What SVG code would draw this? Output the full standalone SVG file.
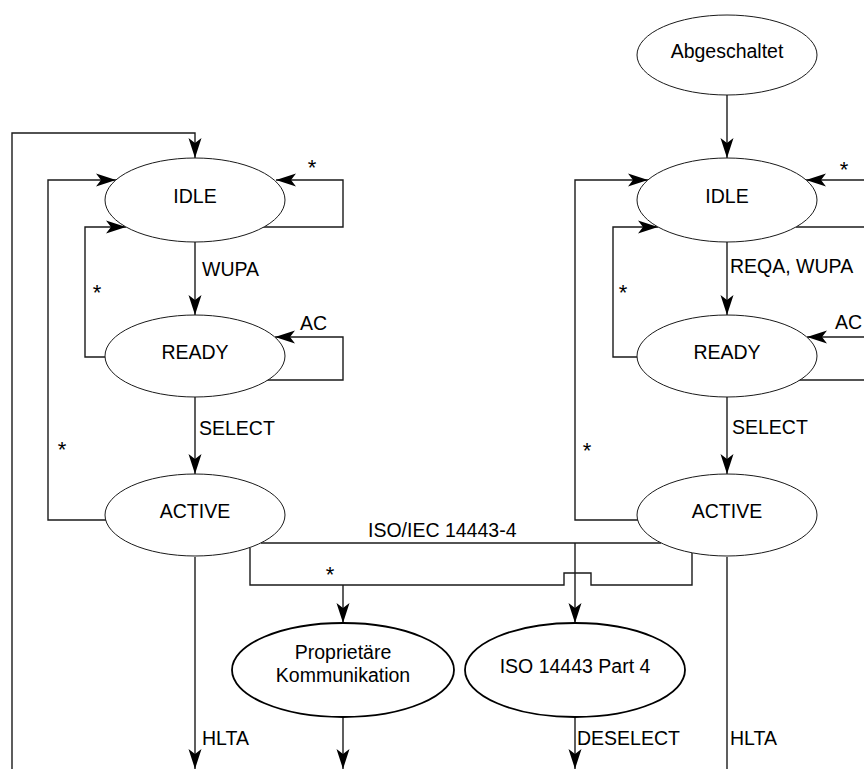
<svg xmlns="http://www.w3.org/2000/svg" width="864" height="769" viewBox="0 0 864 769">
<style>
.c{fill:none;stroke:#1a1a1a;stroke-width:1.4}
.s{fill:#fff;stroke:#1a1a1a;stroke-width:1}
.b{fill:#fff;stroke:#000;stroke-width:1.8}
text{font-family:"Liberation Sans",Arial,sans-serif;font-size:19.5px;fill:#000}
.m{text-anchor:middle}
.st{font-size:22px}
</style>
<defs>
<marker id="a" markerUnits="userSpaceOnUse" markerWidth="22" markerHeight="14" viewBox="-21 -7 22 14" refX="0" refY="0" orient="auto">
<path d="M0,0 L-20,-6.5 L-15,0 L-20,6.5 Z" fill="#000"/>
</marker>
</defs>
<rect width="864" height="769" fill="#fff"/>
<g id="connectors">
<path class="c" d="M12,769 V133 H195 V158" marker-end="url(#a)"/>
<path class="c" d="M106,520 H48 V180 H116" marker-end="url(#a)"/>
<path class="c" d="M262,227 H343 V180 H276" marker-end="url(#a)"/>
<path class="c" d="M105,357 H85 V227 H126" marker-end="url(#a)"/>
<path class="c" d="M195,242 V315" marker-end="url(#a)"/>
<path class="c" d="M266,380 H343 V337 H275" marker-end="url(#a)"/>
<path class="c" d="M195,397 V474" marker-end="url(#a)"/>
<path class="c" d="M195,557 V769" marker-end="url(#a)"/>
<path class="c" d="M261,543 H661"/>
<path class="c" d="M575,543 V623" marker-end="url(#a)"/>
<path class="c" d="M250,548 V585 H564 V573 H591 V585 H692 V553"/>
<path class="c" d="M343,585 V623" marker-end="url(#a)"/>
<path class="c" d="M343,717 V769" marker-end="url(#a)"/>
<path class="c" d="M575,717 V769" marker-end="url(#a)"/>
<path class="c" d="M727,95 V158" marker-end="url(#a)"/>
<path class="c" d="M638,520 H575 V180 H648" marker-end="url(#a)"/>
<path class="c" d="M637,357 H613 V227 H658" marker-end="url(#a)"/>
<path class="c" d="M864,180 H806" marker-end="url(#a)"/>
<path class="c" d="M796,227 H864"/>
<path class="c" d="M727,242 V315" marker-end="url(#a)"/>
<path class="c" d="M864,337 H807" marker-end="url(#a)"/>
<path class="c" d="M798,380 H864"/>
<path class="c" d="M727,397 V474" marker-end="url(#a)"/>
<path class="c" d="M727,557 V769"/>
<text x="312" y="175" class="m st">*</text>
<text x="97" y="300" class="m st">*</text>
<text x="202" y="276">WUPA</text>
<text x="300" y="330">AC</text>
<text x="199" y="435">SELECT</text>
<text x="62" y="457" class="m st">*</text>
<text x="368" y="537">ISO/IEC 14443-4</text>
<text x="330" y="582" class="m st">*</text>
<text x="202" y="745">HLTA</text>
<text x="577" y="745">DESELECT</text>
<text x="730" y="745">HLTA</text>
<text x="844" y="177" class="m st">*</text>
<text x="623" y="300" class="m st">*</text>
<text x="730" y="273">REQA, WUPA</text>
<text x="835" y="329">AC</text>
<text x="732" y="434">SELECT</text>
<text x="587" y="458" class="m st">*</text>
</g>
<g id="left-idle"><ellipse class="s" cx="195" cy="200" rx="90" ry="42"/><text x="195" y="203" class="m">IDLE</text></g>
<g id="left-ready"><ellipse class="s" cx="195" cy="356" rx="90" ry="41"/><text x="195" y="359" class="m">READY</text></g>
<g id="left-active"><ellipse class="s" cx="195" cy="515" rx="90" ry="41"/><text x="195" y="518" class="m">ACTIVE</text></g>
<g id="abgeschaltet"><ellipse class="s" cx="727" cy="55" rx="90" ry="40"/><text x="727" y="58" class="m">Abgeschaltet</text></g>
<g id="right-idle"><ellipse class="s" cx="727" cy="200" rx="90" ry="42"/><text x="727" y="203" class="m">IDLE</text></g>
<g id="right-ready"><ellipse class="s" cx="727" cy="356" rx="90" ry="41"/><text x="727" y="359" class="m">READY</text></g>
<g id="right-active"><ellipse class="s" cx="727" cy="515" rx="90" ry="41"/><text x="727" y="518" class="m">ACTIVE</text></g>
<g id="proprietaer"><ellipse class="b" cx="343" cy="670" rx="111" ry="47"/><text x="343" y="659" class="m">Proprietäre</text><text x="343" y="682" class="m">Kommunikation</text></g>
<g id="iso-part4"><ellipse class="b" cx="575" cy="670" rx="110" ry="47"/><text x="575" y="673" class="m">ISO 14443 Part 4</text></g>
</svg>
